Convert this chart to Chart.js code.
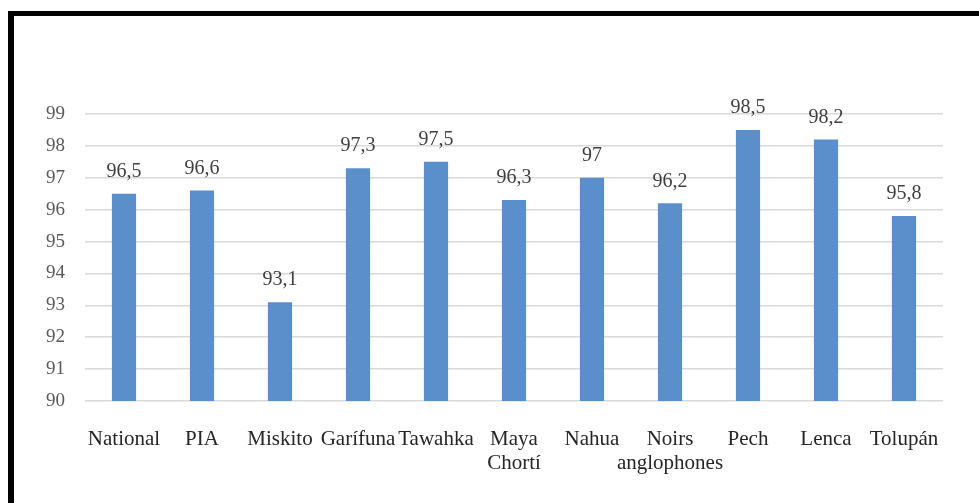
<!DOCTYPE html>
<html>
<head>
<meta charset="utf-8">
<script src="https://cdn.jsdelivr.net/npm/chart.js@4"></script>
<style>
  html, body { margin: 0; padding: 0; background: #fff; }
  #wrap { position: relative; width: 979px; height: 503px; overflow: hidden; }
  #cadre { position: absolute; left: 8px; top: 11px; width: 1200px; height: 800px;
           border-top: 5px solid #000; border-left: 6px solid #000; }
  canvas { position: absolute; left: 0; top: 0; }
</style>
</head>
<body>
<div id="wrap">
  <div id="cadre"></div>
  <canvas id="graphique" width="979" height="503"></canvas>
</div>
<script>
// Données
const groupes = ['National', 'PIA', 'Miskito', 'Garífuna', 'Tawahka', ['Maya', 'Chortí'],
                 'Nahua', ['Noirs', 'anglophones'], 'Pech', 'Lenca', 'Tolupán'];
const valeurs = [96.5, 96.6, 93.1, 97.3, 97.5, 96.3, 97, 96.2, 98.5, 98.2, 95.8];
const graduations = [90, 91, 92, 93, 94, 95, 96, 97, 98, 99];

// Étiquettes au-dessus des barres (virgule décimale)
const etiquettes = {
    id: 'etiquettes',
    afterDatasetsDraw(chart) {
        const ctx = chart.ctx;
        const meta = chart.getDatasetMeta(0);
        ctx.save();
        ctx.font = '20px "Liberation Serif"';
        ctx.fillStyle = '#404040';
        ctx.textAlign = 'center';
        ctx.textBaseline = 'bottom';
        meta.data.forEach((barre, i) => {
            const texte = String(valeurs[i]).replace('.', ',');
            ctx.fillText(texte, barre.x, barre.y - 12);
        });
        ctx.restore();
    }
};

const ctx = document.getElementById('graphique').getContext('2d');
new Chart(ctx, {
    type: 'bar',
    data: {
        labels: groupes,
        datasets: [{
            data: valeurs,
            backgroundColor: '#5b8fcb',
            borderWidth: 0,
            barPercentage: 0.31,
            categoryPercentage: 1
        }]
    },
    options: {
        responsive: false,
        animation: false,
        layout: { padding: { top: 114, right: 36, bottom: 0, left: 0 } },
        plugins: {
            legend: { display: false },
            tooltip: { enabled: false }
        },
        scales: {
            y: {
                min: 90,
                max: 99,
                afterFit(scale) { scale.width = 85; },
                afterBuildTicks(scale) { scale.ticks = graduations.map(v => ({ value: v })); },
                border: { display: false },
                grid: { color: '#d9d9d9', lineWidth: 1.5, drawTicks: false },
                ticks: {
                    padding: 20,
                    color: '#595959',
                    font: { family: 'Liberation Serif', size: 19 }
                }
            },
            x: {
                afterFit(scale) { scale.height = 102; },
                border: { display: false },
                grid: { display: false, drawTicks: false },
                ticks: {
                    padding: 26,
                    maxRotation: 0,
                    autoSkip: false,
                    color: '#262626',
                    font: { family: 'Liberation Serif', size: 21, lineHeight: 1.15 }
                }
            }
        }
    },
    plugins: [etiquettes]
});
</script>
</body>
</html>
